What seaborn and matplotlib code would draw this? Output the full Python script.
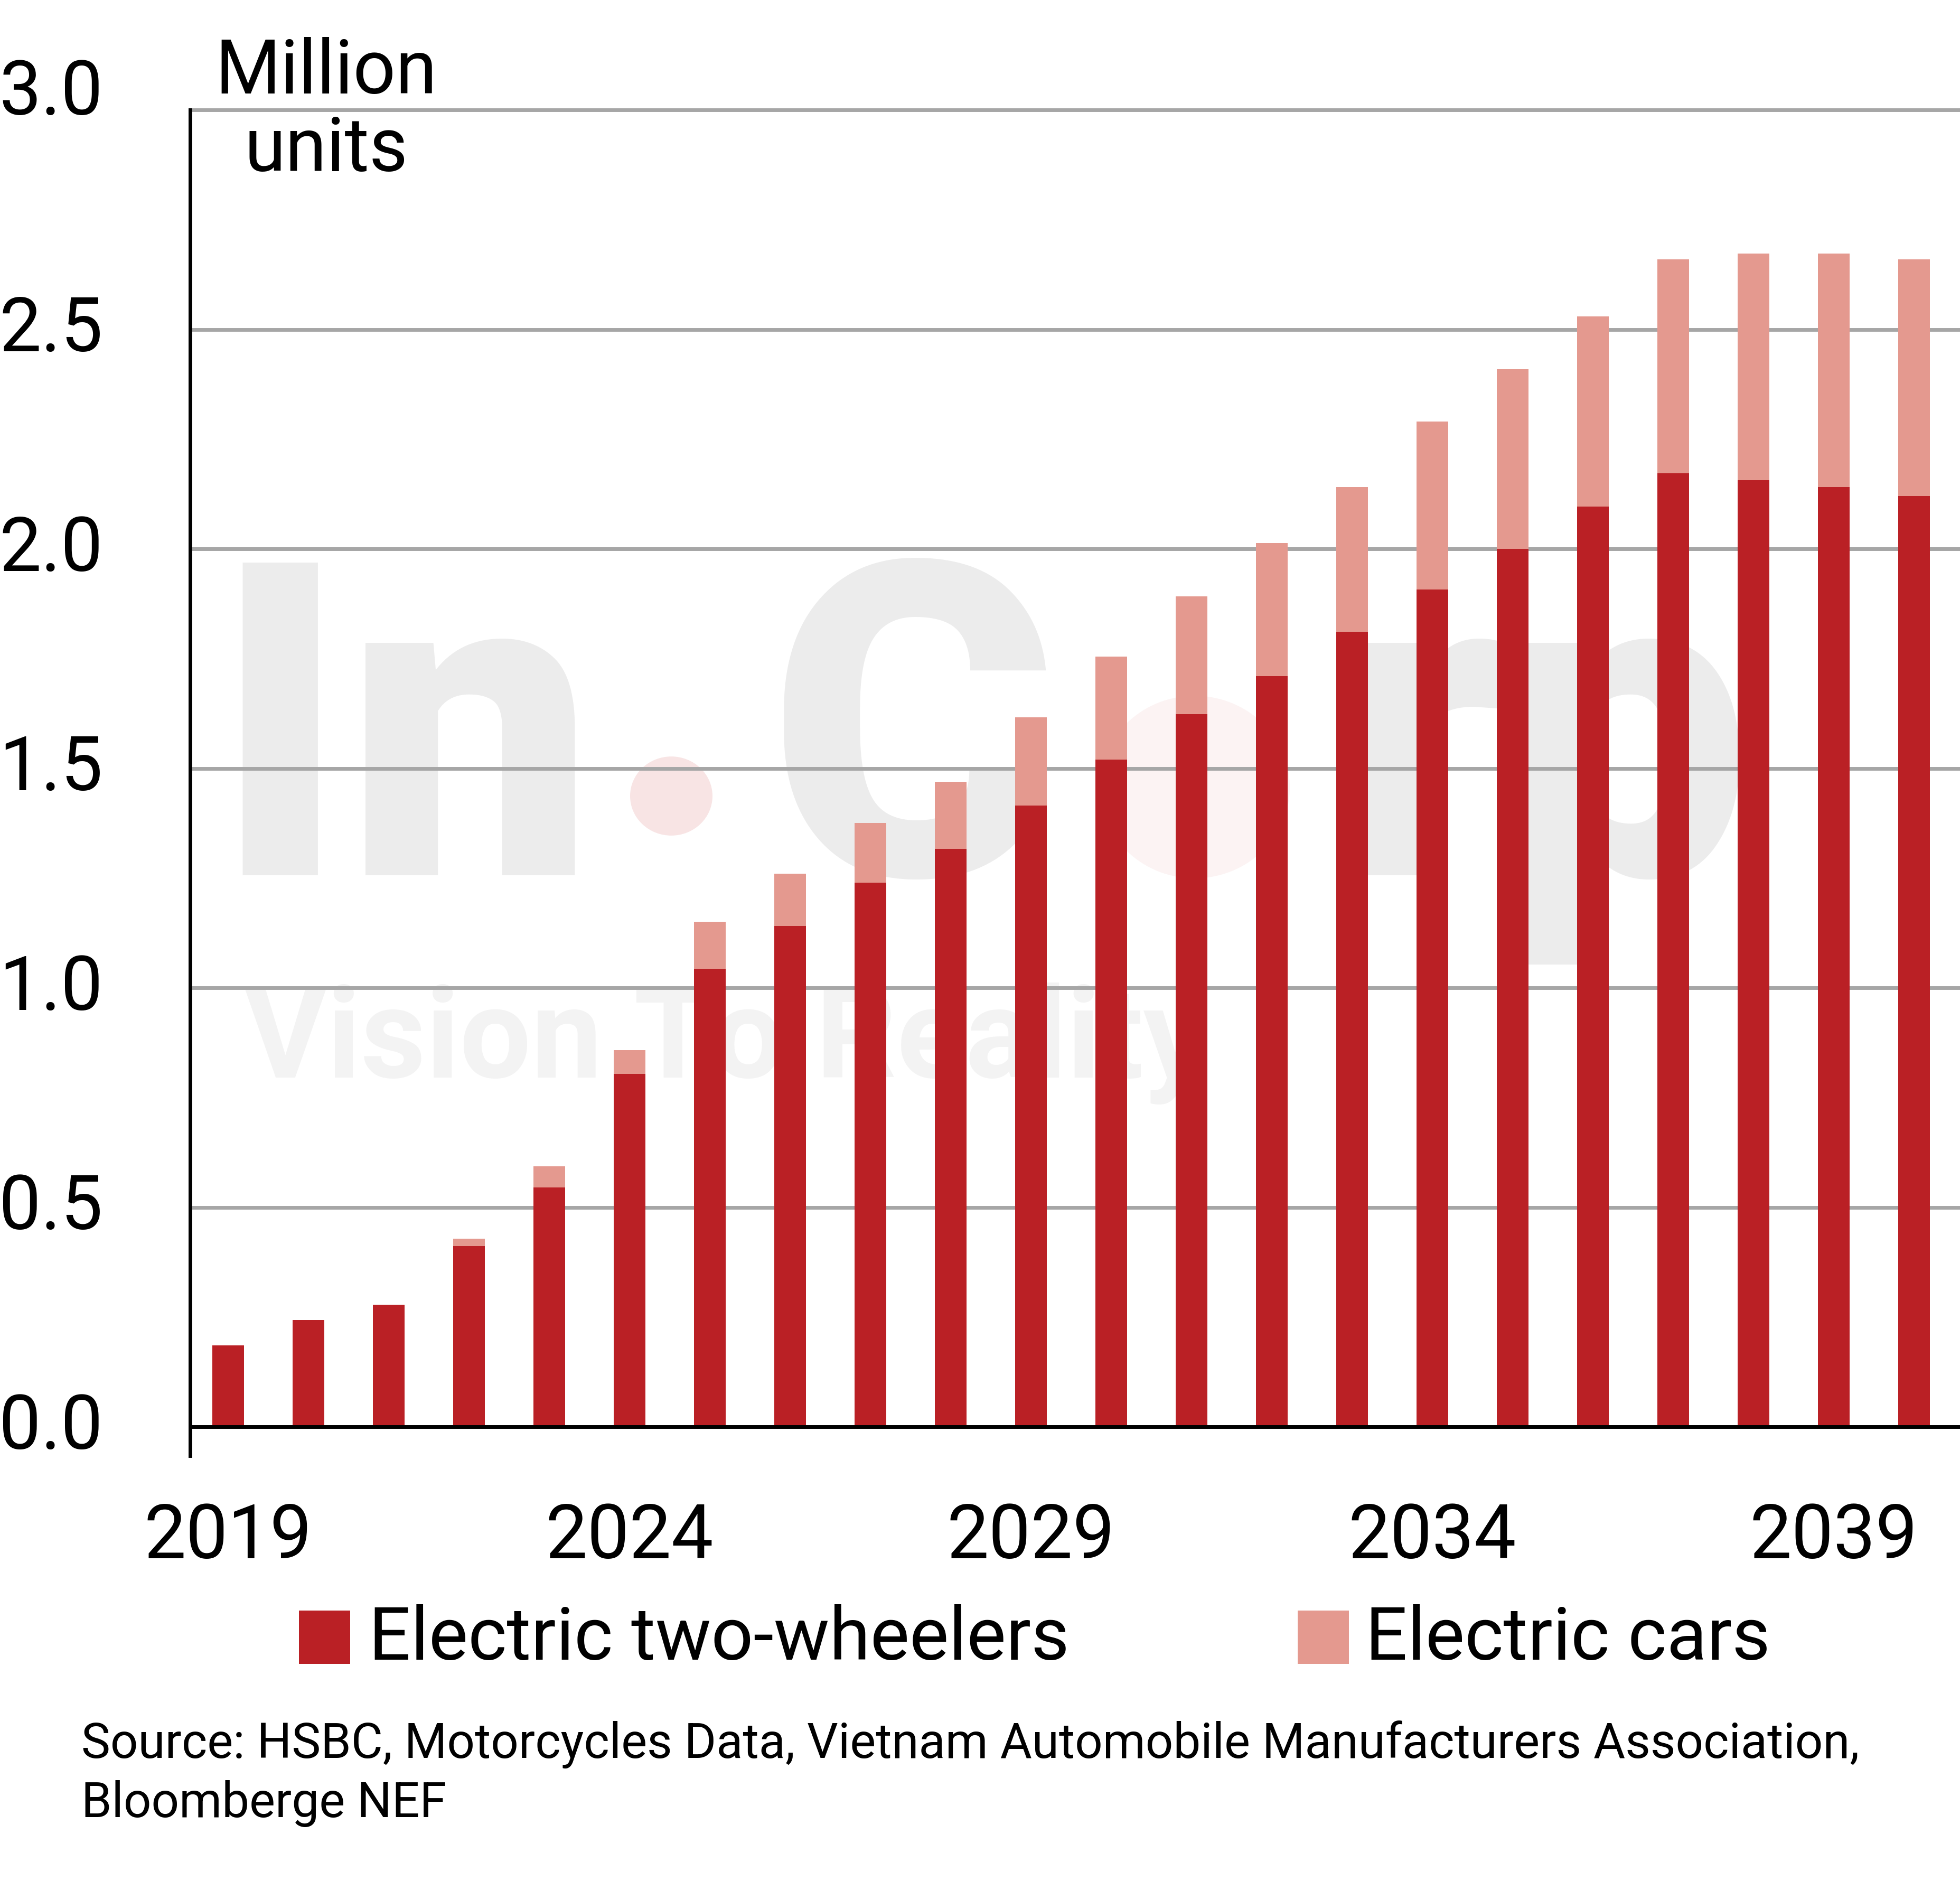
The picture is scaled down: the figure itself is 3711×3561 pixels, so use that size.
import matplotlib
matplotlib.use("Agg")
import matplotlib.pyplot as plt
from matplotlib.patches import Rectangle, Circle
from matplotlib.transforms import ScaledTranslation
import seaborn as sns
import pandas as pd

# ---------------- data ----------------
years = [str(y) for y in range(2019, 2041)]
two_wheelers = [0.185, 0.243, 0.278, 0.412, 0.545, 0.804, 1.043, 1.141, 1.240, 1.316, 1.415,
                1.520, 1.623, 1.710, 1.811, 1.908, 2.000, 2.096, 2.172, 2.157, 2.141, 2.120]
cars = [0.0, 0.0, 0.0, 0.016, 0.048, 0.054, 0.107, 0.119, 0.136, 0.154, 0.201,
        0.235, 0.269, 0.303, 0.330, 0.382, 0.409, 0.433, 0.487, 0.516, 0.532, 0.539]
xtick_years = ["2019", "2024", "2029", "2034", "2039"]
ytick_values = [0.0, 0.5, 1.0, 1.5, 2.0, 2.5, 3.0]
series_names = ["Electric two-wheelers", "Electric cars"]
unit_label = ["Million", "units"]
source_lines = ["Source: HSBC, Motorcycles Data, Vietnam Automobile Manufacturers Association,",
                "Bloomberge NEF"]

DARK = "#BA2025"
LIGHT = "#E4998F"
GRID = "#A6A6A6"

df = pd.DataFrame({"year": years, "two": two_wheelers, "cars": cars})
df["total"] = df["two"] + df["cars"]

# ---------------- figure ----------------
sns.set_style("white")
plt.rcParams["font.family"] = ["Roboto", "DejaVu Sans"]
plt.rcParams["text.color"] = "black"

W, H = 3712, 3562
fig = plt.figure(figsize=(W / 100, H / 100), dpi=100)
fig.patch.set_facecolor("white")

def fx(x):
    return x / W

def fy(y):
    return 1 - y / H

ax_left, ax_right = 360, 3712
ax_top, ax_bottom = 209, 2757
ax = fig.add_axes([fx(ax_left), fy(ax_bottom), (ax_right - ax_left) / W, (ax_bottom - ax_top) / H])
ax.patch.set_alpha(0)

# ---------------- watermark (faint) ----------------
wm = dict(color="#ececec", fontweight="heavy", zorder=-5, va="baseline", ha="left")
fig.text(fx(405), fy(1657), "In", fontsize=600, **wm)
fig.patches.append(Circle((fx(1271), fy(1508)), 78 / W, transform=fig.transFigure,
                          facecolor="#f8e4e4", edgecolor="none", zorder=-5))
fig.text(fx(1455), fy(1657), "C", fontsize=600, **wm)
fig.patches.append(Circle((fx(2262), fy(1491)), 180 / W, transform=fig.transFigure,
                          facecolor="#fcf3f3", edgecolor="none", zorder=-5))
fig.text(fx(2530), fy(1657), "rp", fontsize=600, **wm)
fig.text(fx(462), fy(2040), "Vision To Reality", fontsize=173, color="#f3f3f3",
         fontweight="bold", zorder=-5, va="baseline", ha="left")

# ---------------- bars ----------------
bw = 0.395
sns.barplot(data=df, x="year", y="total", color=LIGHT, saturation=1, width=bw,
            errorbar=None, ax=ax, zorder=2, edgecolor="none")
sns.barplot(data=df, x="year", y="two", color=DARK, saturation=1, width=bw,
            errorbar=None, ax=ax, zorder=2, edgecolor="none")

# x mapping: pixel = 432 + 152 * idx
x0, step = 432, 152
ax.set_xlim((ax_left - x0) / step, (ax_right - x0) / step)
ax.set_ylim(-0.066, 3.0)

ax.set_xticks([years.index(y) for y in xtick_years])
ax.set_xticklabels(xtick_years)
ax.set_yticks(ytick_values)
ax.set_yticklabels([f"{v:.1f}" for v in ytick_values])
ax.set_xlabel("")
ax.set_ylabel("")

ax.tick_params(axis="x", length=0, pad=62, labelsize=102, colors="black")
ax.tick_params(axis="y", direction="out", length=38, width=5, pad=81, labelsize=102,
               colors="black")

ax.yaxis.grid(True, color=GRID, linewidth=5)
ax.xaxis.grid(False)
ax.set_axisbelow(True)
for g in ax.get_ygridlines():
    g.set_clip_on(False)

for s in ["top", "right", "bottom"]:
    ax.spines[s].set_visible(False)
ax.spines["left"].set_color("black")
ax.spines["left"].set_linewidth(5)
ax.spines["left"].set_zorder(4)

ax.axhline(0, color="black", linewidth=5, zorder=3)

# nudge y tick labels up slightly (top one more)
for tick, v in zip(ax.yaxis.get_major_ticks(), ytick_values):
    dy = 0.45 if v == 3.0 else 0.13
    tick.label1.set_transform(tick.label1.get_transform() +
                              ScaledTranslation(0, dy, fig.dpi_scale_trans))

# ---------------- unit label ----------------
fig.text(fx(618), fy(177), unit_label[0], fontsize=102, ha="center", va="baseline", color="black")
fig.text(fx(618), fy(324), unit_label[1], fontsize=102, ha="center", va="baseline", color="black")

# ---------------- legend ----------------
leg_items = [(566, series_names[0], DARK, 698), (2457, series_names[1], LIGHT, 2585)]
for sx, name, col, tx in leg_items:
    fig.patches.append(Rectangle((fx(sx), fy(3151)), 97 / W, 101 / H, transform=fig.transFigure,
                                 facecolor=col, edgecolor="none"))
    fig.text(fx(tx), fy(3142), name, fontsize=101, ha="left", va="baseline", color="black")

# ---------------- source ----------------
fig.text(fx(154), fy(3328), source_lines[0], fontsize=66.5, ha="left", va="baseline", color="black")
fig.text(fx(154), fy(3440), source_lines[1], fontsize=66.5, ha="left", va="baseline", color="black")

fig.savefig("out.png", dpi=100, facecolor="white")
